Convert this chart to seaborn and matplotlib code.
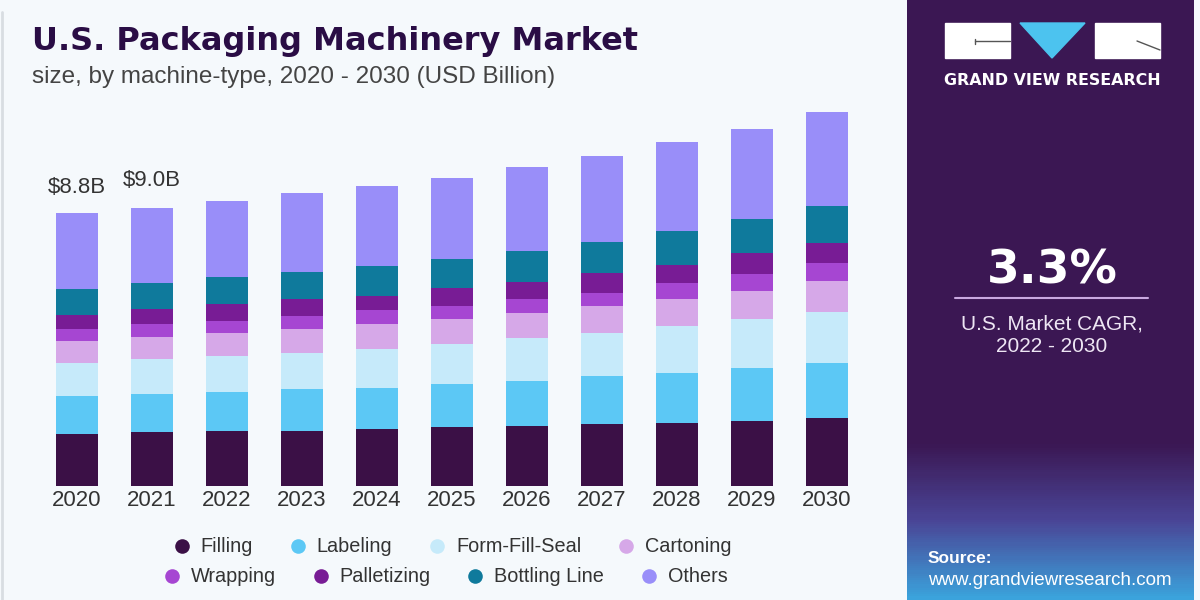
import numpy as np
import pandas as pd
import seaborn as sns
import matplotlib.pyplot as plt
from matplotlib.lines import Line2D
from matplotlib.patches import Rectangle, Polygon
from matplotlib.colors import LinearSegmentedColormap

# values (USD billion)
years = ["2020", "2021", "2022", "2023", "2024", "2025", "2026", "2027", "2028", "2029", "2030"]
filling = [1.67, 1.74, 1.77, 1.77, 1.84, 1.90, 1.94, 2.00, 2.03, 2.10, 2.19]
labeling = [1.22, 1.23, 1.26, 1.35, 1.32, 1.39, 1.45, 1.55, 1.61, 1.71, 1.77]
form_fill_seal = [1.09, 1.13, 1.16, 1.16, 1.26, 1.29, 1.39, 1.39, 1.52, 1.58, 1.65]
cartoning = [0.71, 0.71, 0.74, 0.77, 0.81, 0.81, 0.81, 0.87, 0.87, 0.90, 1.00]
wrapping = [0.39, 0.42, 0.39, 0.45, 0.45, 0.42, 0.45, 0.42, 0.52, 0.55, 0.58]
palletizing = [0.45, 0.48, 0.55, 0.52, 0.45, 0.58, 0.55, 0.65, 0.58, 0.68, 0.65]
bottling_line = [0.84, 0.84, 0.87, 0.87, 0.97, 0.94, 1.00, 1.00, 1.10, 1.10, 1.19]
others = [2.44, 2.42, 2.45, 2.55, 2.58, 2.61, 2.71, 2.77, 2.87, 2.90, 3.03]

segments = ["Filling", "Labeling", "Form-Fill-Seal", "Cartoning",
            "Wrapping", "Palletizing", "Bottling Line", "Others"]
colors = ["#3b1046", "#5cc8f5", "#c6eafa", "#d6a8e8",
          "#a646d2", "#781c95", "#0f7a9c", "#998ef9"]
labeled_years = ["2020", "2021"]

df = pd.DataFrame({"year": years, "Filling": filling, "Labeling": labeling,
                   "Form-Fill-Seal": form_fill_seal, "Cartoning": cartoning,
                   "Wrapping": wrapping, "Palletizing": palletizing,
                   "Bottling Line": bottling_line, "Others": others})

sns.set_style("white")
plt.rcParams["font.family"] = ["Liberation Sans", "DejaVu Sans"]

fig = plt.figure(figsize=(12, 6), dpi=100)
fig.patch.set_facecolor("#f5f9fc")

# overlay in pixel coords for the decorations
bg = fig.add_axes([0, 0, 1, 1], zorder=0)
bg.set_xlim(0, 1200)
bg.set_ylim(600, 0)
bg.axis("off")

bg.plot([1.5, 1.5], [12, 600], color="#d8dde2", lw=2)

# right panel with gradient at the bottom
cmap = LinearSegmentedColormap.from_list(
    "panel", [(0, "#3b1753"), (0.74, "#3b1753"), (0.87, "#4a4596"), (1.0, "#3ba3dc")])
grad = np.linspace(0, 1, 300).reshape(-1, 1)
bg.imshow(grad, cmap=cmap, extent=[907, 1194, 600, 0], aspect="auto", zorder=1)
bg.set_xlim(0, 1200)
bg.set_ylim(600, 0)

# logo
bg.add_patch(Rectangle((945, 23), 65, 35, color="white", zorder=2))
bg.add_patch(Rectangle((1095, 23), 65, 35, color="white", zorder=2))
bg.add_patch(Polygon([(1020, 23), (1085, 23), (1052, 58)], color="#4cc3ef", zorder=2))
bg.plot([975, 1010], [41, 41], color="#555555", lw=1, zorder=3)
bg.plot([975, 975], [39, 44], color="#555555", lw=1, zorder=3)
bg.plot([1137, 1160], [41, 50], color="#555555", lw=1, zorder=3)
bg.text(1052, 85, "GRAND VIEW RESEARCH", color="white", fontsize=11.4, weight="bold",
        family="DejaVu Sans", ha="center", va="baseline", zorder=3)

bg.text(1052, 284, "3.3%", color="white", fontsize=34, weight="bold",
        family="DejaVu Sans", ha="center", va="baseline", zorder=3)
bg.plot([955, 1148], [298, 298], color="#c9a8e0", lw=1.5, zorder=3)
bg.text(1052, 330, "U.S. Market CAGR,", color="#eee6f4", fontsize=15,
        ha="center", va="baseline", zorder=3)
bg.text(1052, 352, "2022 - 2030", color="#eee6f4", fontsize=15,
        ha="center", va="baseline", zorder=3)
bg.text(928, 563, "Source:", color="white", fontsize=12.5, weight="bold",
        ha="left", va="baseline", zorder=3)
bg.text(928, 585, "www.grandviewresearch.com", color="white", fontsize=13.5,
        ha="left", va="baseline", zorder=3)

# titles
bg.text(32, 50, "U.S. Packaging Machinery Market", color="#2a0d45", fontsize=23,
        weight="bold", family="DejaVu Sans", ha="left", va="baseline")
bg.text(32, 83, "size, by machine-type, 2020 - 2030 (USD Billion)", color="#444444",
        fontsize=17.5, ha="left", va="baseline")

# stacked bars
ax = fig.add_axes([32 / 1200, 114 / 600, 840 / 1200, 390.6 / 600], zorder=1)
ax.patch.set_alpha(0)
bottom = np.zeros(len(years))
for seg, col in zip(segments, colors):
    vals = df[seg].to_numpy()
    sns.barplot(x=df["year"], y=vals, bottom=bottom, color=col, width=0.57,
                saturation=1, linewidth=0, errorbar=None, ax=ax)
    bottom = bottom + vals

ax.set_xlim(-0.6, 10.6)
ax.set_ylim(0, 12.6)
ax.set_xlabel("")
ax.set_ylabel("")
ax.set_yticks([])
ax.tick_params(axis="x", length=0, pad=3, labelsize=16, labelcolor="#333333")
sns.despine(ax=ax, left=True, bottom=True)

for i, (yr, off) in enumerate(zip(labeled_years, [0.65, 0.71])):
    ax.text(i, bottom[i] + off, f"${bottom[i]:.1f}B", ha="center", va="baseline",
            fontsize=16, color="#333333")

# legend in two rows
handles = [Line2D([], [], marker="o", ls="", markersize=10.5, color=c,
                  markeredgewidth=0) for c in colors]
leg_kw = dict(ncol=4, frameon=False, fontsize=14.3, handlelength=0.8,
              handletextpad=0.55, columnspacing=1.85, borderpad=0,
              borderaxespad=0, loc="center left", labelcolor="#333333")
leg1 = fig.legend(handles[:4], segments[:4], bbox_to_anchor=(174 / 1200, 53 / 600), **leg_kw)
leg2 = fig.legend(handles[4:], segments[4:], bbox_to_anchor=(164 / 1200, 23 / 600), **leg_kw)

fig.savefig("out.png", dpi=100, facecolor=fig.get_facecolor())
